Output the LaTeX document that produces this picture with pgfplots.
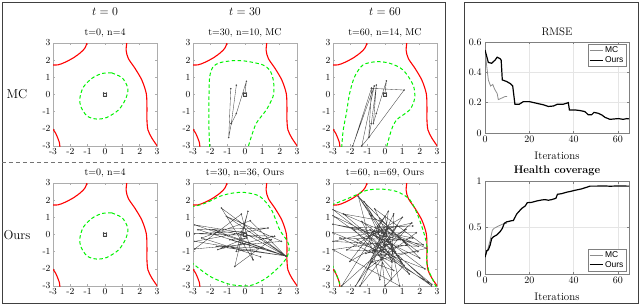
\documentclass[border=0pt]{standalone}
\usepackage{pgfplots}
\pgfplotsset{compat=1.18}
\usepackage{fontspec}
\newfontfamily\legfont{Liberation Sans}
\definecolor{mred}{rgb}{1,0,0}
\definecolor{mgreen}{rgb}{0,0.95,0}
\definecolor{axgray}{rgb}{0.68,0.68,0.68}
\pgfplotsset{
 subp/.style={width=104bp,height=103bp,scale only axis,anchor=south west,
  xmin=-3,xmax=3,ymin=-3,ymax=3,
  xtick={-3,-2,-1,0,1,2,3}, ytick={-3,-2,-1,0,1,2,3},
  xticklabels={-3,-2,-1,0,1,2,3}, yticklabels={-3,-2,-1,0,1,2,3},
  tick align=inside, major tick length=2bp,
  axis line style={axgray}, every tick/.style={axgray},
  tick label style={font=\fontsize{9.3}{10}\selectfont, black},
  xticklabel style={yshift=1.5bp}, yticklabel style={xshift=1bp}},
 truth/.style={mred, line width=1.1pt, smooth},
 est/.style={mgreen, line width=1pt, dash pattern=on 3.5pt off 2.5pt, smooth},
 traj/.style={black!75, line width=0.35pt, mark=*, mark size=0.6pt,
   mark options={solid, fill=black!70, draw=black!70}},
 lplot/.style={width=144bp, scale only axis, anchor=south west, xmin=0, xmax=65,
   xtick={0,20,40,60}, grid=major, grid style={black!10}, axis line style={black!50},
   every tick/.style={black!50}, tick align=inside, major tick length=2.5bp,
   tick label style={font=\fontsize{10}{11}\selectfont},
   legend cell align=left,
   legend image code/.code={\draw[#1] (0bp,0bp) -- (13bp,0bp);},
   legend style={font=\legfont\fontsize{8.5}{9}\selectfont, draw=black!50, inner sep=0.5pt,
     row sep=-1.5pt}},
}
\newcommand\truthcurves{%
 \addplot[truth] coordinates {(-3.1,1.72) (-2.7,1.73) (-2.3,1.88) (-1.8,2.15) (-1.4,2.45) (-1.15,2.72) (-1.01,3.1)};
 \addplot[truth] coordinates {(-3.1,-1.95) (-3,-2.03) (-2.85,-2.25) (-2.72,-2.55) (-2.63,-2.8) (-2.6,-3.1)};
 \addplot[truth] coordinates {(1.27,3.1) (1.22,2.57) (1.35,2.09) (1.74,1.51) (2.13,0.83) (2.38,0.06) (2.42,-0.72) (2.42,-1.49) (2.48,-2.07) (2.71,-2.55) (3.05,-3.05)};
}
\newcommand\hashpts{%
 \addplot[traj] coordinates {(-0.08,0.08) (0.08,0.08) (0.08,-0.08) (-0.08,-0.08) (-0.08,0.08)};
}
\newcommand\ellipse{%
 \addplot[est] coordinates {(0.39,1.26) (0.97,0.99) (1.26,0.54) (1.32,0.2) (1.16,-0.33) (0.77,-0.91) (0.1,-1.34) (-0.48,-1.43) (-1.03,-1.26) (-1.39,-0.72) (-1.45,-0.23) (-1.26,0.41) (-0.77,0.93) (-0.19,1.22) (0.39,1.26)};
}
\begin{document}
\begin{tikzpicture}[x=1bp,y=1bp]
\useasboundingbox (0,0) rectangle (640,305);
% frames
\draw[black!75, line width=0.8pt] (2,2) rectangle (445,303);
\draw[black!75, line width=0.8pt] (464,2) rectangle (638,303);
\draw[black!55, line width=0.7pt, dash pattern=on 4pt off 3pt] (2,143) -- (445,143);
% headers
\node[font=\fontsize{13}{14}\selectfont] at (105,293) {$t=0$};
\node[font=\fontsize{13}{14}\selectfont] at (245,293) {$t=30$};
\node[font=\fontsize{13}{14}\selectfont] at (385,293) {$t=60$};
\node[font=\fontsize{13}{14}\selectfont] at (17,211) {MC};
\node[font=\fontsize{13}{14}\selectfont] at (17,70) {Ours};
% subplot titles
\node[font=\fontsize{10}{11}\selectfont] at (105,272) {t=0, n=4};
\node[font=\fontsize{10}{11}\selectfont] at (245,272) {t=30, n=10, MC};
\node[font=\fontsize{10}{11}\selectfont] at (385,272) {t=60, n=14, MC};
\node[font=\fontsize{10}{11}\selectfont] at (105,132) {t=0, n=4};
\node[font=\fontsize{10}{11}\selectfont] at (245,132) {t=30, n=36, Ours};
\node[font=\fontsize{10}{11}\selectfont] at (385,132) {t=60, n=69, Ours};
% line plot titles and labels
\node[font=\fontsize{11}{12}\selectfont] at (557,273) {RMSE};
\node[font=\fontsize{11}{12}\selectfont] at (557,149) {Iterations};
\node[font=\fontsize{11}{12}\selectfont\bfseries] at (557,134) {Health coverage};
\node[font=\fontsize{11}{12}\selectfont] at (557,8.5) {Iterations};

% ---- MC t=0
\begin{axis}[subp, at={(53bp,159bp)}]
\truthcurves
\ellipse
\hashpts
\end{axis}
% ---- MC t=30
\begin{axis}[subp, at={(193bp,159bp)}]
\truthcurves
\addplot[est] coordinates {(-2.04,-3.1) (-2.08,-1.9) (-2.08,-0.3) (-2.04,1.0) (-1.85,1.6) (-1.46,1.85) (-0.7,1.97) (0.0,1.95) (0.5,1.86) (1.04,1.72) (1.43,1.42) (1.62,0.9) (1.67,0.38) (1.62,-0.11) (1.24,-0.88) (0.66,-1.66) (0.37,-2.44) (0.17,-3.1)};
\hashpts
\addplot[traj] coordinates {(0.0,0.08) (0.08,0.77) (-0.5,-1.11) (-0.79,-1.69) (-0.5,0.54) (-0.79,-1.69) (-0.94,-2.51) (-0.82,0.34)};
\end{axis}
% ---- MC t=60
\begin{axis}[subp, at={(333bp,159bp)}]
\truthcurves
\addplot[est] coordinates {(-2.5,-3.1) (-2.41,-2.07) (-2.23,-1.1) (-2.04,0.07) (-1.75,1.04) (-1.27,1.72) (-0.5,1.91) (0.27,1.82) (1.04,1.43) (1.62,0.56) (1.71,-0.22) (1.42,-0.9) (0.66,-1.48) (0.37,-2.07) (0.08,-3.1)};
\hashpts
\addplot[traj] coordinates {(0.0,0.08) (0.08,0.79) (-0.5,-1.1) (-0.67,-1.68) (-0.5,0.55) (-0.79,-1.69) (-0.94,-2.51) (-0.78,0.36) (1.1,0.26) (-0.9,-2.46) (-1.34,-3) (-0.62,0.5) (-1.86,-3) (-0.78,0.36)};
\end{axis}
% ---- Ours t=0
\begin{axis}[subp, at={(53bp,19bp)}]
\truthcurves
\ellipse
\hashpts
\end{axis}
% ---- Ours t=30
\begin{axis}[subp, at={(193bp,19bp)}]
\truthcurves
\addplot[est] coordinates {(-3.1,1.62) (-2.5,1.75) (-1.9,2.0) (-1.46,2.22) (-0.8,2.4) (-0.02,2.45) (0.85,2.22) (1.52,1.45) (2.0,0.28) (2.45,-0.4) (2.55,-0.85) (2.39,-1.37) (2.0,-1.86) (1.24,-2.53) (0.5,-2.92) (0.0,-3.0) (-0.8,-2.92) (-1.46,-2.7) (-2.0,-2.45) (-2.5,-2.1) (-3.1,-1.62)};
\hashpts
\addplot[traj] coordinates {(0.0,0.08) (-2.9,0.56) (2.35,-1.25) (-2.71,0.28) (1.33,0.38) (-2.9,-0.4) (2.35,-1.25) (-1.36,1.54) (0.46,-1.47) (-0.21,1.19) (-2.9,-0.84) (2.1,-0.4) (-1.07,1.06) (2.35,-1.25) (-1.85,0.28) (1.52,-0.3) (-0.59,-1.86) (0.17,1.35) (-0.5,-0.98) (1.04,-0.79) (-1.65,-0.69) (2.35,-1.25) (-0.21,0.18) (-2.9,0.05) (1.7,-0.1) (-1.57,-0.88) (0.08,-0.2) (-0.88,-0.3) (2.35,-1.25) (0.3,0.8) (-2.5,-0.2) (0.9,-1.3)};
\end{axis}
% ---- Ours t=60
\begin{axis}[subp, at={(333bp,19bp)}]
\truthcurves
\addplot[est] coordinates {(-3.1,1.72) (-2.4,1.99) (-1.63,2.32) (-1.06,2.57) (-0.3,2.65) (0.66,2.51) (1.43,2.03) (1.92,1.05) (2.3,-0.11) (2.44,-0.88) (2.4,-1.57) (2.58,-2.24) (2.95,-3.05)};
\addplot[est] coordinates {(-3.1,-1.8) (-3,-1.86) (-2.69,-2.63) (-2.56,-3.1)};
\hashpts
\addplot[traj] coordinates {(0.0,0.08) (-1.54,2.22) (0.96,-1.66) (-3,1.45) (1.92,-0.69) (-3,-0.4) (1.54,0.67) (-2.5,-3) (0.19,1.35) (-0.3,-2.63) (-1.54,2.22) (2.0,-1.37) (-3,1.1) (2.69,-3) (-0.86,0.28) (1.6,-0.2) (-3,-0.88) (0.85,-3) (0,1.06) (-2.03,-1.57) (1.2,0.3) (-1.44,-3) (0.5,1.2) (0.37,-2.63) (-1.34,0.76) (2.3,-2.0) (-3,0.1) (1.8,0.1) (-1.0,-2.0) (-0.19,0.09) (-3,0.6) (2.2,-0.6) (-0.6,1.5) (0.6,-1.0) (-2.2,-0.9) (1.0,1.0) (-1.7,-3) (0.2,0.4) (-0.5,-0.6) (1.4,-2.3) (-1.2,1.9) (0.9,-0.3) (-2.6,-0.2) (0.4,-1.6) (-0.9,1.2) (1.9,-1.0) (-0.3,-1.2) (0.7,0.5) (-1.6,-0.3) (2.7,-2.9) (-0.7,0.0) (0.3,-0.5) (-1.1,-1.1) (1.3,-0.6) (-0.2,0.8) (-2.4,1.2) (1.1,-1.8) (0.0,-3) (-0.4,0.4) (1.6,0.5) (-1.9,0.4) (0.5,-2.1) (-0.8,-1.6) (2.4,-0.8) (0.1,0.2)};
\end{axis}

% ---- RMSE
\begin{axis}[lplot, at={(485bp,172bp)}, height=91bp, ymin=0, ymax=0.6, ytick={0,0.2,0.4,0.6},
  legend style={at={(0.98,0.98)}, anchor=north east}]
\addplot[black!45, line width=0.8pt] coordinates {(0,0.547) (0.7,0.45) (1.5,0.35) (2.5,0.31) (3.5,0.32) (4.3,0.29) (5.5,0.26) (6,0.22) (7.5,0.23) (9,0.24) (10,0.24)};
\addlegendentry{MC}
\addplot[black, line width=1.2pt] coordinates {(0,0.547) (1.5,0.465) (3,0.46) (4.5,0.48) (5.5,0.5) (6.8,0.49) (7.3,0.48) (7.8,0.35) (9.7,0.34) (11.5,0.325) (12.5,0.31) (13.5,0.19) (15.5,0.19) (17.3,0.207) (20,0.207) (23.3,0.196) (26.3,0.186) (28.6,0.175) (30.9,0.178) (32.7,0.19) (35.4,0.19) (37.6,0.2) (38.1,0.152) (40.6,0.152) (42.9,0.148) (45.1,0.141) (46.6,0.12) (48.1,0.12) (49.2,0.136) (51.1,0.13) (52.7,0.119) (54.2,0.103) (56.4,0.09) (57.9,0.092) (60.2,0.095) (62.4,0.09) (64,0.095) (65,0.093)};
\addlegendentry{Ours}
\end{axis}
% ---- Health coverage
\begin{axis}[lplot, at={(485bp,31bp)}, height=93bp, ymin=0, ymax=1, ytick={0,0.5,1},
  legend style={at={(0.98,0.03)}, anchor=south east}]
\addplot[black!45, line width=0.8pt] coordinates {(0,0.18) (0.8,0.24) (1.5,0.29) (2.3,0.36) (3.3,0.47) (4,0.49) (6,0.515) (8.3,0.54) (9.8,0.545)};
\addlegendentry{MC}
\addplot[black, line width=1.2pt] coordinates {(0,0.18) (0.8,0.25) (1.5,0.26) (2.3,0.31) (3,0.38) (3.8,0.40) (5.3,0.42) (6.8,0.455) (7.8,0.49) (8.7,0.545) (9.7,0.56) (12,0.573) (12.8,0.575) (14.3,0.645) (16.6,0.706) (18.1,0.73) (19.1,0.767) (21,0.77) (23.3,0.785) (25.6,0.796) (27.1,0.80) (28.6,0.793) (30.1,0.80) (32,0.814) (32.7,0.857) (34.6,0.864) (36.9,0.88) (38.4,0.887) (40.6,0.9) (43.6,0.915) (45.9,0.933) (47.4,0.945) (50.4,0.945) (53.4,0.947) (56.4,0.944) (59.4,0.946) (65,0.945)};
\addlegendentry{Ours}
\end{axis}
\end{tikzpicture}
\end{document}
